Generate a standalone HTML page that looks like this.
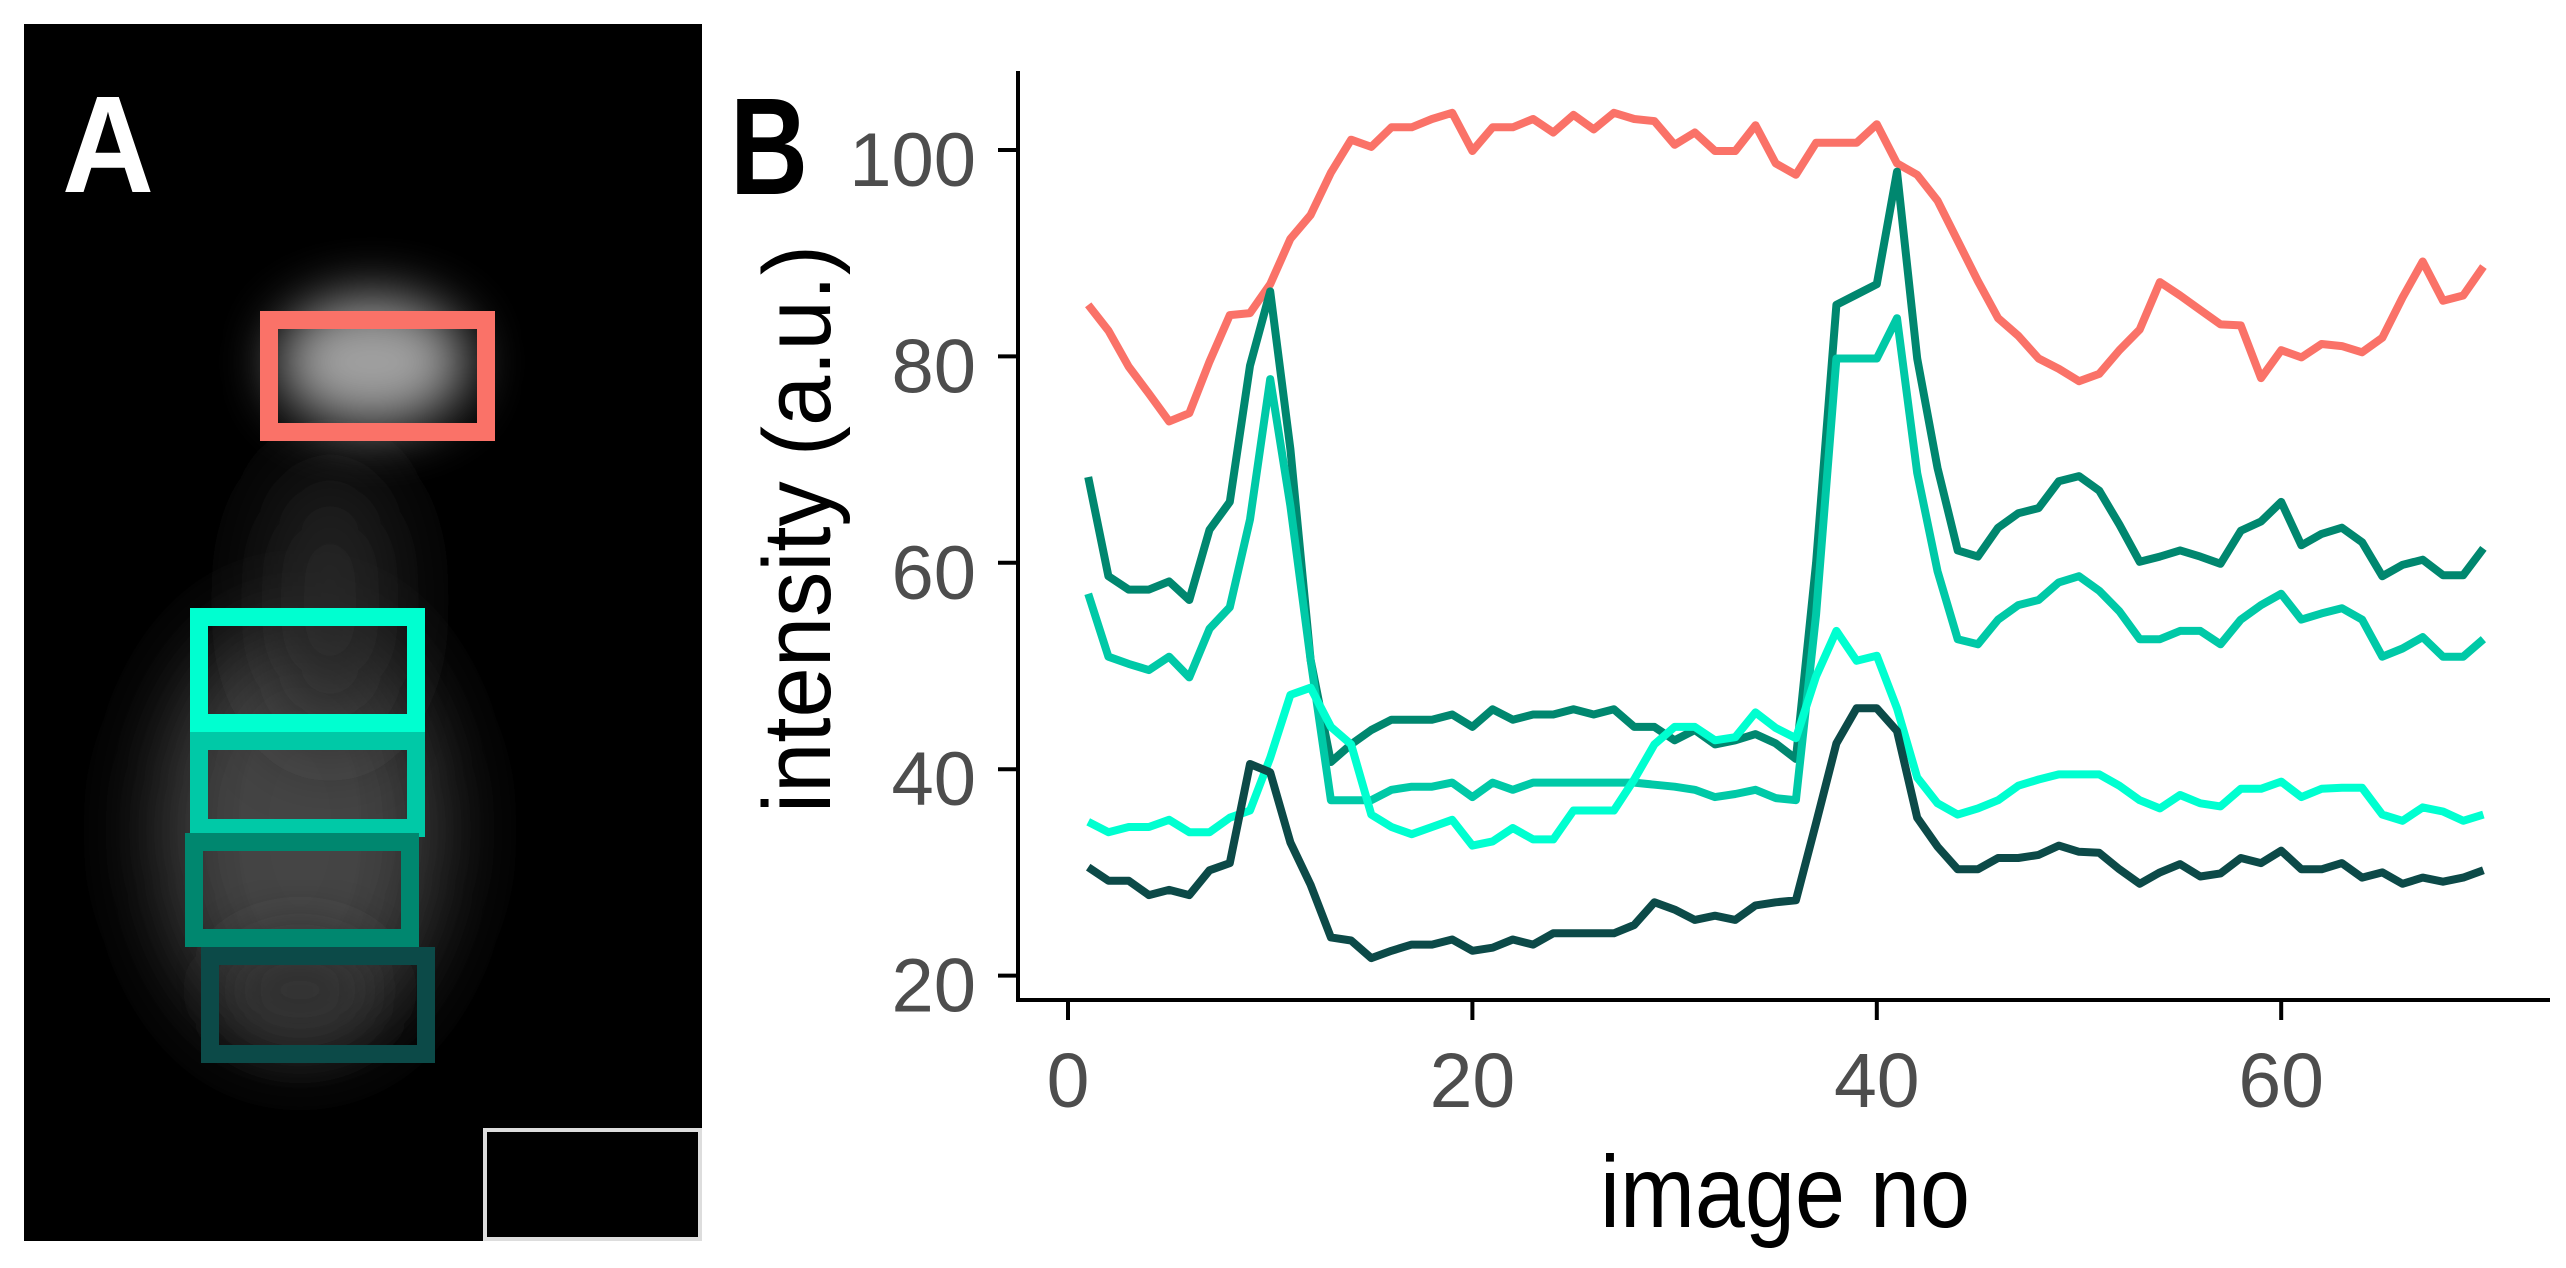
<!DOCTYPE html>
<html><head><meta charset="utf-8">
<style>
html,body{margin:0;padding:0;background:#fff;}
body{width:2566px;height:1268px;position:relative;overflow:hidden;font-family:"Liberation Sans",sans-serif;}
svg{position:absolute;left:0;top:0;}
</style></head>
<body>
<svg id="fig" width="2566" height="1268" viewBox="0 0 2566 1268">
  <defs>
    <filter id="blurBig" x="-50%" y="-50%" width="200%" height="200%"><feGaussianBlur stdDeviation="45"/></filter>
    <filter id="blurMid" x="-50%" y="-50%" width="200%" height="200%"><feGaussianBlur stdDeviation="28"/></filter>
    <clipPath id="imgClip"><rect x="24" y="24" width="678" height="1217"/></clipPath>
  </defs>
  <g>
    <rect x="24" y="24" width="678" height="1217" fill="#000"/>
    <g clip-path="url(#imgClip)">
      <ellipse cx="300" cy="830" rx="140" ry="210" fill="#444" filter="url(#blurBig)"/>
      <ellipse cx="330" cy="600" rx="60" ry="140" fill="#2a2a2a" filter="url(#blurBig)"/>
      <ellipse cx="372" cy="362" rx="95" ry="65" fill="#a0a0a0" filter="url(#blurMid)"/>
      <ellipse cx="300" cy="990" rx="80" ry="55" fill="#333" filter="url(#blurMid)"/>
    </g>
    <rect x="269" y="320" width="217" height="112" fill="none" stroke="#fa7268" stroke-width="18"/>
    <rect x="199" y="617" width="217" height="106" fill="none" stroke="#00ffd0" stroke-width="18"/>
    <rect x="199" y="741" width="217" height="87" fill="none" stroke="#00c9a7" stroke-width="18"/>
    <rect x="194" y="842" width="216" height="96" fill="none" stroke="#00876f" stroke-width="18"/>
    <rect x="210" y="956" width="216" height="98" fill="none" stroke="#0c4a48" stroke-width="18"/>
    <rect x="485" y="1130" width="215" height="109" fill="#000" stroke="#ddd" stroke-width="4"/>
    <text x="62" y="192" fill="#fff" font-family="Liberation Sans, sans-serif" font-weight="bold" font-size="138" textLength="92" lengthAdjust="spacingAndGlyphs">A</text>
  </g>
  <text x="730" y="194" fill="#000" font-family="Liberation Sans, sans-serif" font-weight="bold" font-size="138" textLength="78" lengthAdjust="spacingAndGlyphs">B</text>
  <g id="chart"></g>
</svg>
<script>
const xTicks = [0, 20, 40, 60];
const yTicks = [20, 40, 60, 80, 100];
const imageNo = [];
for (let i = 1; i <= 70; i++) imageNo.push(i);
const salmonValues = [85,82.5,79,76.4,73.7,74.5,79.5,84,84.2,87,91.4,93.7,97.8,101,100.3,102.2,102.2,103,103.6,99.9,102.2,102.2,103,101.7,103.4,102,103.6,103,102.8,100.5,101.7,99.9,99.9,102.4,98.7,97.6,100.7,100.7,100.7,102.5,98.7,97.6,95.1,91.2,87.3,83.7,82,79.8,78.8,77.6,78.3,80.6,82.6,87.2,85.9,84.5,83.1,83,77.9,80.6,79.9,81.2,81,80.4,81.8,85.7,89.2,85.4,85.9,88.7];
const tealValues = [68.3,58.7,57.4,57.4,58.2,56.4,63.2,65.9,79.1,86.3,71,50.6,40.7,42.4,43.8,44.8,44.8,44.8,45.3,44.1,45.8,44.8,45.3,45.3,45.8,45.3,45.8,44.1,44.1,42.8,43.8,42.4,42.8,43.4,42.5,41,60,85,86,87,97.9,79.8,69.2,61.2,60.6,63.4,64.8,65.3,67.9,68.4,67,63.7,60.1,60.6,61.2,60.6,59.9,63.1,64,65.9,61.7,62.8,63.4,62,58.7,59.8,60.3,58.8,58.8,61.4];
const aquaValues = [57,50.9,50.2,49.6,50.9,48.9,53.6,55.7,64.2,77.8,65.5,50.6,37,37,37,38,38.3,38.3,38.7,37.3,38.7,38,38.7,38.7,38.7,38.7,38.7,38.7,38.5,38.3,38,37.3,37.6,38,37.2,37,55,79.8,79.8,79.8,83.7,68.7,59.2,52.6,52.1,54.5,55.9,56.4,58.1,58.7,57.3,55.3,52.6,52.6,53.4,53.4,52.1,54.5,55.9,57,54.5,55.1,55.6,54.5,50.9,51.7,52.8,50.9,50.9,52.6];
const cyanValues = [34.9,33.9,34.4,34.4,35.1,33.9,33.9,35.3,36,41.1,47.2,47.9,44.1,42.4,35.6,34.4,33.7,34.4,35.1,32.6,33,34.3,33.2,33.2,36,36,36,39,42.4,44.1,44.1,42.8,43.1,45.5,44,43,49,53.4,50.5,51,45.9,39.2,36.7,35.6,36.2,37,38.4,39,39.5,39.5,39.5,38.4,37,36.2,37.5,36.7,36.4,38.1,38.1,38.8,37.3,38.1,38.2,38.2,35.6,35,36.3,35.9,35,35.6];
const darkValues = [30.5,29.2,29.2,27.8,28.3,27.8,30.2,30.9,40.5,39.7,32.9,28.8,23.7,23.4,21.7,22.4,23,23,23.5,22.4,22.7,23.5,23,24.1,24.1,24.1,24.1,24.9,27.1,26.4,25.4,25.8,25.4,26.8,27.1,27.3,34.8,42.5,45.9,45.9,43.7,35.3,32.5,30.3,30.3,31.4,31.4,31.7,32.6,32,31.9,30.3,28.9,30,30.8,29.6,29.9,31.4,30.9,32.1,30.3,30.3,30.9,29.5,30,28.9,29.5,29.1,29.5,30.2];
const seriesNames = ["salmon", "teal", "aqua", "cyan", "dark-teal"];
const seriesColors = ["#fa7268", "#00876f", "#00c9a7", "#00ffd0", "#0c4a48"];
const seriesData = [salmonValues, tealValues, aquaValues, cyanValues, darkValues];

const NS = "http://www.w3.org/2000/svg";
const X0 = 1068, XU = 20.22;
const Y100 = 150, YPER = 10.32;
function xs(v){ return X0 + v * XU; }
function ys(v){ return Y100 + (100 - v) * YPER; }
const g = document.getElementById("chart");
function mk(tag, attrs){ const e = document.createElementNS(NS, tag); for (const k in attrs) e.setAttribute(k, attrs[k]); g.appendChild(e); return e; }

const ya = mk("line", {x1:1018, y1:71, x2:1018, y2:1001, stroke:"#000", "stroke-width":4});


const xa = mk("line", {x1:1016, y1:1000, x2:2550, y2:1000, stroke:"#000", "stroke-width":4});



yTicks.forEach(function(t){
  const tk = mk("line", {x1:998, y1:ys(t), x2:1018, y2:ys(t), stroke:"#000", "stroke-width":4});
  
  
  const tx = mk("text", {x:976, y:ys(t)+36, "text-anchor":"end", "font-size":76, fill:"#4d4d4d", "font-family":"Liberation Sans, sans-serif"});
  tx.textContent = t;
  
  
});
xTicks.forEach(function(t){
  const tk = mk("line", {x1:xs(t), y1:1000, x2:xs(t), y2:1020, stroke:"#000", "stroke-width":4});
  
  
  const tx = mk("text", {x:xs(t), y:1107, "text-anchor":"middle", "font-size":77, fill:"#4d4d4d", "font-family":"Liberation Sans, sans-serif"});
  tx.textContent = t;
  
  
});

const xt = mk("text", {x:1600, y:1227, "font-size":102, fill:"#000", "font-family":"Liberation Sans, sans-serif", textLength:370, lengthAdjust:"spacingAndGlyphs"});
xt.textContent = "image no";


const yt = mk("text", {x:0, y:0, "font-size":96, fill:"#000", "font-family":"Liberation Sans, sans-serif", textLength:568, lengthAdjust:"spacingAndGlyphs", transform:"translate(830,813) rotate(-90)"});
yt.textContent = "intensity (a.u.)";



seriesData.forEach(function(vals, si){
  let d = "";
  vals.forEach(function(v, i){ d += (i ? "L" : "M") + xs(imageNo[i]).toFixed(1) + "," + ys(v).toFixed(1); });
  const p = mk("path", {d:d, fill:"none", stroke:seriesColors[si], "stroke-width":8, "stroke-linejoin":"round"});
  
  
});
</script>
</body></html>
